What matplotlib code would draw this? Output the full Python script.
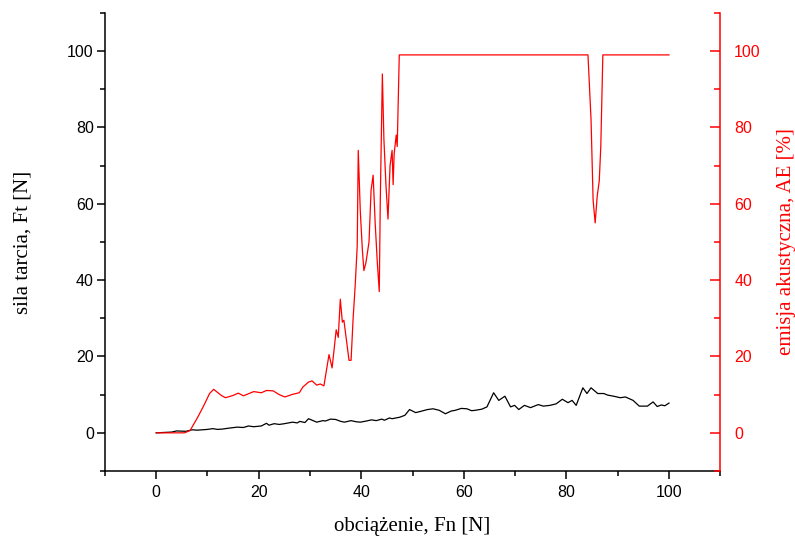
import numpy as np
import matplotlib
matplotlib.use('Agg')
import matplotlib.pyplot as plt
from matplotlib.ticker import MultipleLocator

# sila tarcia (black, left axis)
ft_x = [0, 3, 4, 5.8, 7, 8, 10, 11, 12, 13, 14, 15.8, 17, 18, 19, 20.5, 21.5, 22, 23, 24, 25,
        26.6, 27.5, 28, 29, 29.7, 31.3, 32.5, 33, 34, 35, 36, 36.7, 38, 39, 39.8, 41, 42, 42.9,
        44, 44.5, 45.5, 46, 47.5, 48.5, 49.4, 50.6, 51.5, 52.9, 54, 55.2, 56.4, 57.5, 58.3,
        59.5, 60.6, 61.5, 62.2, 63.5, 64.5, 65.8, 66.8, 68, 69.1, 69.9, 70.7, 71.8, 73, 74.5,
        75.5, 76.8, 78, 79.2, 80.3, 81.1, 81.9, 83.2, 84, 84.8, 86.1, 87.3, 88, 89.2, 90.5,
        91.5, 93, 94.2, 95.8, 96.9, 97.7, 98.5, 99.2, 100]
ft_y = [0, 0.2, 0.5, 0.4, 0.8, 0.7, 0.9, 1.1, 0.9, 1.0, 1.2, 1.5, 1.4, 1.8, 1.6, 1.8, 2.5, 2.0,
        2.4, 2.2, 2.4, 2.8, 2.6, 3.0, 2.7, 3.7, 2.8, 3.2, 3.1, 3.6, 3.5, 3.0, 2.8, 3.2, 2.9, 2.8,
        3.1, 3.4, 3.2, 3.6, 3.3, 3.9, 3.7, 4.1, 4.6, 6.1, 5.3, 5.6, 6.1, 6.3, 5.9, 5.0, 5.7,
        5.9, 6.4, 6.3, 5.8, 5.9, 6.2, 6.8, 10.5, 8.5, 9.6, 6.8, 7.2, 6.1, 7.2, 6.6, 7.4,
        7.0, 7.2, 7.6, 8.8, 7.9, 8.5, 7.2, 11.8, 10.3, 11.8, 10.3, 10.3, 9.9, 9.6, 9.2,
        9.4, 8.5, 7.0, 7.0, 8.1, 6.9, 7.3, 7.1, 7.8]

# emisja akustyczna (red, right axis)
ae_x = [0, 5.5, 6.6, 8.1, 9.3, 10.4, 11.2, 12.7, 13.5, 15, 16, 17, 18.1, 19, 20.5, 21.5, 22.8,
        24, 25.1, 26.6, 27.9, 28.6, 29.7, 30.4, 31.3, 32, 32.7, 33.7, 34.3, 35.1, 35.5, 35.9,
        36.3, 36.6, 37.6, 38, 38.4, 38.8, 39.2, 39.4, 39.8, 40.2, 40.5, 40.9, 41.5, 41.9,
        42.3, 42.7, 43.1, 43.5, 43.7, 44.1, 44.4, 44.8, 45.2, 45.6, 46, 46.2, 46.4, 46.8, 47,
        47.4, 84.2, 84.8, 85.2, 85.6, 86, 86.4, 86.7, 87.1, 100]
ae_y = [0, 0, 0.6, 4.1, 7.2, 10.3, 11.4, 9.8, 9.2, 9.8, 10.4, 9.7, 10.3, 10.8, 10.5, 11.1, 11.0,
        10.0, 9.4, 10.1, 10.5, 12.0, 13.3, 13.6, 12.5, 12.8, 12.3, 20.5, 17, 27, 25, 35,
        29, 29.5, 19, 19, 30, 38.5, 49, 74, 58, 48, 42.5, 44.6, 50, 63.5,
        67.5, 55, 45, 37, 61, 94, 77, 65, 56, 70, 74, 65, 73, 78, 75,
        99, 99, 82, 61, 55, 62, 66, 75, 99, 99]

RED = '#ff0000'
TICK_FONT = 'Liberation Sans'
LABEL_FONT = 'Liberation Serif'

fig = plt.figure(figsize=(7.95, 5.38), dpi=100)
ax = fig.add_axes([0.132, 0.1245, 0.774, 0.8515])
ax2 = ax.twinx()

ax.plot(ft_x, ft_y, color='black', lw=0.9)
ax2.plot(ae_x, ae_y, color=RED, lw=0.9)

for a in (ax, ax2):
    a.set_xlim(-10, 110)
    a.set_ylim(-10, 110)
    a.xaxis.set_major_locator(MultipleLocator(20))
    a.xaxis.set_minor_locator(MultipleLocator(10))
    a.yaxis.set_major_locator(MultipleLocator(20))
    a.yaxis.set_minor_locator(MultipleLocator(10))

ax.set_xticks(np.arange(0, 101, 20))
ax.set_yticks(np.arange(0, 101, 20))
ax2.set_yticks(np.arange(0, 101, 20))

ax.spines['top'].set_visible(False)
ax.spines['right'].set_visible(False)
ax.spines['left'].set_linewidth(1.1)
ax.spines['bottom'].set_linewidth(1.1)
for s in ('top', 'left', 'bottom'):
    ax2.spines[s].set_visible(False)
ax2.spines['right'].set_color(RED)
ax2.spines['right'].set_linewidth(1.1)

ax.tick_params(which='major', direction='out', length=6, width=1.1, labelsize=11.5, pad=2)
ax.tick_params(which='minor', direction='out', length=3.5, width=1.1)
ax.tick_params(axis='x', which='major', pad=4)
ax2.tick_params(axis='y', which='major', direction='in', length=7, width=1.1, color=RED,
                labelcolor=RED, labelsize=11.5, pad=10)
ax2.tick_params(axis='y', which='minor', direction='in', length=4, width=1.1, color=RED)
ax2.tick_params(axis='x', which='both', bottom=False, top=False, labelbottom=False)

for lab in ax.get_xticklabels() + ax.get_yticklabels() + ax2.get_yticklabels():
    lab.set_fontfamily(TICK_FONT)

ax.set_xlabel('obciążenie, Fn [N]', fontfamily=LABEL_FONT, fontsize=15, labelpad=12)
ax.set_ylabel('sila tarcia, Ft [N]', fontfamily=LABEL_FONT, fontsize=15, labelpad=25)
ax2.set_ylabel('emisja akustyczna, AE [%]', fontfamily=LABEL_FONT, fontsize=15,
               color=RED, labelpad=12)

fig.savefig('out.png', dpi=100)
